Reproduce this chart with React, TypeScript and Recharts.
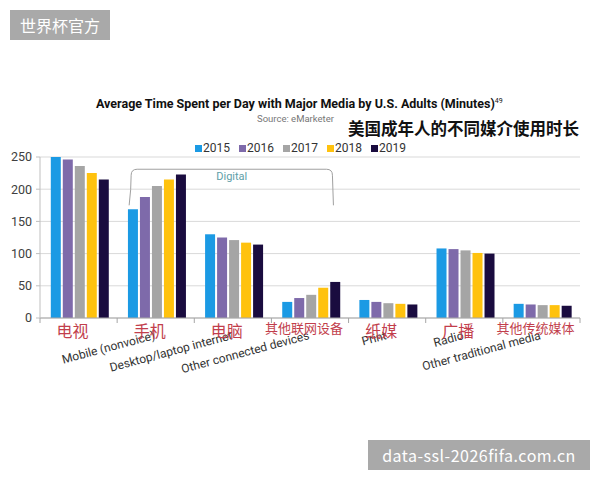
import React from 'react'
import { BarChart, Bar, XAxis, YAxis, CartesianGrid } from 'recharts'

const categories = [
  'TV',
  'Mobile (nonvoice)',
  'Desktop/laptop internet',
  'Other connected devices',
  'Print',
  'Radio',
  'Other traditional media',
]
const cnLabels = ['电视', '手机', '电脑', '其他联网设备', '纸媒', '广播', '其他传统媒体']
const years = ['2015', '2016', '2017', '2018', '2019']
const v2015 = [250, 169, 130, 25, 28, 108, 22]
const v2016 = [246, 188, 125, 31, 25, 107, 21]
const v2017 = [236, 205, 121, 36, 23, 105, 20]
const v2018 = [225, 215, 117, 47, 22, 101, 20]
const v2019 = [215, 223, 114, 56, 21, 100, 19]
const yTicks = [0, 50, 100, 150, 200, 250]

const colors = ['#1B9AE4', '#7E6AAA', '#A5A5A5', '#FFC20E', '#1A0C3F']
const series = [v2015, v2016, v2017, v2018, v2019]

const data = categories.map((name, i) => {
  const row: Record<string, string | number> = { name }
  years.forEach((y, j) => {
    row[y] = series[j][i]
  })
  return row
})

// plot area, kept in sync with the chart margins below
const PLOT = { left: 40, top: 157, width: 540, height: 161 }
const X_AXIS_H = 30
const Y_MAX = 250
const yPx = (v: number) => PLOT.top + PLOT.height * (1 - v / Y_MAX)
const band = PLOT.width / categories.length

const CJK = '"Noto Sans CJK SC", sans-serif'
const LATIN = 'Roboto, "Noto Sans", sans-serif'

function XTick(props: any) {
  const { x, y, index, payload } = props
  const cn = cnLabels[index]
  const big = cn.length <= 2
  const ex = x
  const ey = y + 21
  return (
    <g>
      <line x1={x - band / 2} x2={x - band / 2} y1={y} y2={y + 5} stroke="#a6a6a6" />
      {index === categories.length - 1 && (
        <line x1={x + band / 2} x2={x + band / 2} y1={y} y2={y + 5} stroke="#a6a6a6" />
      )}
      {/* the first english label sits fully under its chinese overlay in the source */}
      {index > 0 && (
        <text
          x={ex}
          y={ey}
          transform={`rotate(-15 ${ex} ${ey})`}
          textAnchor="end"
          fontSize={12}
          fill="#333"
          fontFamily={LATIN}
        >
          {payload.value}
        </text>
      )}
      <text
        x={x - 6}
        y={y + (big ? 19 : 14.5)}
        textAnchor="middle"
        fontSize={big ? 16 : 13}
        fill="#C23E4C"
        fontFamily={CJK}
      >
        {cn}
      </text>
    </g>
  )
}

function DigitalBracket() {
  const l = PLOT.left + band + 14
  const r = PLOT.left + band * 3 + 61
  const top = yPx(231)
  const bot = yPx(175)
  const d = `M ${l - 2} ${bot} Q ${l} ${top + 20} ${l} ${top + 6} Q ${l} ${top} ${l + 6} ${top} L ${r - 6} ${top} Q ${r} ${top} ${r} ${top + 6} L ${r + 1} ${bot}`
  return (
    <g>
      <path d={d} fill="none" stroke="#a0a0a0" strokeWidth={1} />
      <text
        x={(l + r) / 2}
        y={yPx(214)}
        textAnchor="middle"
        fontSize={11}
        fill="#5E9EA8"
        fontFamily={LATIN}
      >
        Digital
      </text>
    </g>
  )
}

const badge: React.CSSProperties = {
  position: 'absolute',
  background: '#a9a9a9',
  color: '#fff',
  fontFamily: CJK,
  height: 30,
  lineHeight: '30px',
  textAlign: 'center',
  whiteSpace: 'nowrap',
}

export default function App() {
  return (
    <div style={{ position: 'absolute', left: 0, top: 0, width: 600, height: 480, background: '#fff', overflow: 'hidden' }}>
      <BarChart
        width={600}
        height={480}
        data={data}
        margin={{
          top: PLOT.top,
          right: 600 - PLOT.left - PLOT.width,
          bottom: 480 - PLOT.top - PLOT.height - X_AXIS_H,
          left: 0,
        }}
        barCategoryGap="14%"
        barGap={2}
      >
        <CartesianGrid vertical={false} stroke="#d9d9d9" />
        <XAxis
          dataKey="name"
          height={X_AXIS_H}
          interval={0}
          tick={<XTick />}
          tickLine={false}
          tickSize={0}
          tickMargin={0}
          axisLine={{ stroke: '#a6a6a6' }}
        />
        <YAxis
          width={PLOT.left}
          domain={[0, Y_MAX]}
          ticks={yTicks}
          tickSize={4}
          tickMargin={4}
          tickLine={{ stroke: '#bfbfbf' }}
          axisLine={{ stroke: '#bfbfbf' }}
          tick={{ fontSize: 12.5, fill: '#404040', fontFamily: LATIN }}
        />
        {years.map((y, j) => (
          <Bar key={y} dataKey={y} fill={colors[j]} isAnimationActive={false} />
        ))}
        <DigitalBracket />
      </BarChart>

      <div
        style={{
          position: 'absolute',
          left: 96,
          top: 96,
          width: 400,
          textAlign: 'center',
          fontFamily: LATIN,
          fontWeight: 700,
          fontSize: 12.5,
          color: '#111',
          whiteSpace: 'nowrap',
        }}
      >
        Average Time Spent per Day with Major Media by U.S. Adults (Minutes)
        <sup style={{ fontSize: 7, fontWeight: 400 }}>49</sup>
      </div>
      <div style={{ position: 'absolute', left: 257, top: 113, fontFamily: LATIN, fontSize: 9.5, color: '#777' }}>
        Source: eMarketer
      </div>
      <div
        style={{
          position: 'absolute',
          left: 348,
          top: 117,
          fontFamily: CJK,
          fontWeight: 700,
          fontSize: 16.5,
          lineHeight: '22px',
          color: '#111',
          whiteSpace: 'nowrap',
        }}
      >
        美国成年人的不同媒介使用时长
      </div>
      <div style={{ position: 'absolute', left: 195, top: 140, display: 'flex', fontFamily: LATIN, fontSize: 12, color: '#333', lineHeight: '16px' }}>
        {years.map((y, j) => (
          <div key={y} style={{ display: 'flex', alignItems: 'center', marginRight: 9 }}>
            <span style={{ width: 7, height: 7, background: colors[j], marginRight: 1 }} />
            <span>{y}</span>
          </div>
        ))}
      </div>

      <div style={{ ...badge, left: 10, top: 10, width: 100, fontSize: 16 }}>世界杯官方</div>
      <div style={{ ...badge, left: 368, top: 440, width: 222, fontSize: 16, letterSpacing: 0.5 }}>
        data-ssl-2026fifa.com.cn
      </div>
    </div>
  )
}
